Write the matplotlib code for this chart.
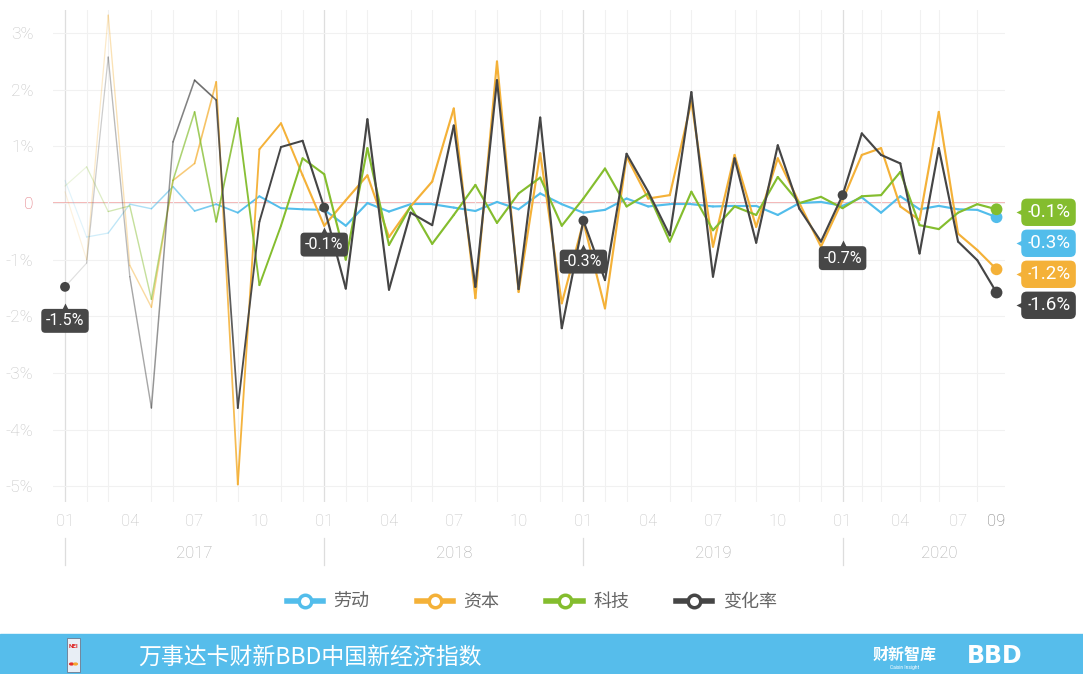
import numpy as np
import matplotlib
matplotlib.use('Agg')
import matplotlib.pyplot as plt
from matplotlib.collections import LineCollection
from matplotlib.lines import Line2D
from matplotlib.patches import Rectangle, Circle
import matplotlib.transforms as mtransforms
from matplotlib.colors import to_rgba

plt.rcParams['font.family'] = ['Roboto', 'Noto Sans CJK SC', 'DejaVu Sans']

# ---------------- data ----------------
months = [f"{y}-{m:02d}" for y in range(2017, 2021) for m in range(1, 13)][:45]

labor = [0.40, -0.60, -0.53, -0.02, -0.10, 0.29, -0.14, -0.02, -0.17, 0.12, -0.09, -0.11,
         -0.12, -0.40, 0.00, -0.15, -0.02, -0.02, -0.08, -0.14, 0.02, -0.11, 0.17, -0.02,
         -0.17, -0.12, 0.08, -0.06, -0.02, -0.02, -0.06, -0.05, -0.05, -0.21, 0.00, 0.02,
         -0.05, 0.10, -0.17, 0.12, -0.11, -0.05, -0.11, -0.12, -0.25]
capital = [0.20, -1.00, 3.32, -1.10, -1.84, 0.40, 0.70, 2.14, -4.97, 0.95, 1.41, 0.49,
           -0.40, 0.05, 0.49, -0.60, -0.06, 0.38, 1.67, -1.68, 2.50, -1.57, 0.88, -1.77,
           -0.33, -1.86, 0.82, 0.08, 0.14, 1.79, -0.77, 0.85, -0.42, 0.79, 0.00, -0.77,
           0.05, 0.85, 0.97, -0.06, -0.30, 1.61, -0.54, -0.83, -1.17]
tech = [0.30, 0.64, -0.15, -0.05, -1.70, 0.40, 1.61, -0.33, 1.50, -1.45, -0.40, 0.79,
        0.51, -1.00, 0.97, -0.74, -0.06, -0.72, -0.21, 0.32, -0.35, 0.17, 0.45, -0.40,
        0.08, 0.61, -0.06, 0.17, -0.68, 0.20, -0.48, -0.06, -0.21, 0.46, 0.00, 0.11,
        -0.09, 0.12, 0.14, 0.55, -0.39, -0.46, -0.17, -0.02, -0.11]
change = [-1.48, -1.06, 2.58, -1.30, -3.62, 1.08, 2.17, 1.82, -3.62, -0.33, 0.99, 1.10,
          -0.08, -1.51, 1.48, -1.53, -0.17, -0.39, 1.37, -1.48, 2.17, -1.52, 1.51, -2.21,
          -0.31, -1.36, 0.87, 0.20, -0.57, 1.96, -1.30, 0.79, -0.70, 1.02, -0.10, -0.68,
          0.14, 1.23, 0.85, 0.70, -0.89, 0.97, -0.68, -1.01, -1.58]

series_names = ['劳动', '资本', '科技', '变化率']
series_values = [labor, capital, tech, change]
series_colors = ['#52BDEB', '#F4B138', '#84BD2E', '#454545']

year_labels = ['2017', '2018', '2019', '2020']
year_start_idx = [0, 12, 24, 36]
year_center_idx = [6, 18, 30, 41]
month_tick_idx = [0, 3, 6, 9, 12, 15, 18, 21, 24, 27, 30, 33, 36, 39, 42, 44]
month_tick_labels = ['01', '04', '07', '10', '01', '04', '07', '10', '01', '04', '07', '10',
                     '01', '04', '07', '09']
year_point_labels = ['-1.5%', '-0.1%', '-0.3%', '-0.7%']
end_labels = ['-0.3%', '-1.2%', '-0.1%', '-1.6%']
y_ticks = [-5, -4, -3, -2, -1, 0, 1, 2, 3]
y_tick_labels = ['-5%', '-4%', '-3%', '-2%', '-1%', '0', '1%', '2%', '3%']

# ---------------- figure ----------------
W, H = 1083, 674
fig = plt.figure(figsize=(W / 100, H / 100), dpi=100)
fig.patch.set_facecolor('white')
ax = fig.add_axes([53 / W, 1 - 502 / H, (1005 - 53) / W, (502 - 10) / H])

B, K = 36.0, 0.891


def fwd(x):
    x = np.asarray(x, dtype=float)
    return np.where(x <= B, x, B + (x - B) * K)


def inv(x):
    x = np.asarray(x, dtype=float)
    return np.where(x <= B, x, B + (x - B) / K)


ax.set_xscale('function', functions=(fwd, inv))
ax.set_xlim(-0.556, 44.44)
ax.set_ylim(-5.28, 3.41)

for s in ax.spines.values():
    s.set_visible(False)

# grid
ax.set_xticks(range(len(months)), minor=True)
ax.grid(which='minor', axis='x', color='#f1f1f1', lw=0.8, zorder=0)
ax.set_yticks(y_ticks)
ax.grid(which='major', axis='y', color='#f1f1f1', lw=0.8, zorder=0)
for i in year_start_idx:
    ax.axvline(i, color='#dedede', lw=0.9, zorder=0.5)
ax.axhline(0, color='#f2a0a0', lw=1.1, zorder=1)

ax.set_xticks(month_tick_idx)
ax.set_xticklabels(month_tick_labels)
ax.set_yticklabels(y_tick_labels)
ax.tick_params(axis='both', which='both', length=0)
ax.tick_params(axis='x', pad=9, labelsize=12, labelcolor='#c4c4c4')
ax.tick_params(axis='y', pad=14, labelsize=12.5, labelcolor='#c4c4c4')
for lab in ax.get_xticklabels() + ax.get_yticklabels():
    lab.set_fontweight('light')
ax.get_xticklabels()[-1].set_color('#777777')
ax.get_yticklabels()[y_ticks.index(0)].set_color('#e07078')

# lines with fade-in over 2017
zorders = [3, 4, 5, 6]
for vals, col, z in zip(series_values, series_colors, zorders):
    x = np.arange(len(vals))
    pts = np.column_stack([x, vals])
    segs = np.stack([pts[:-1], pts[1:]], axis=1)
    mid = x[:-1] + 0.5
    alpha = np.clip(0.12 + 0.1 * mid, 0, 1)
    lw = 0.8 + 0.75 * np.clip(mid / 12.0, 0, 1)
    base = np.array(to_rgba(col))
    cols = np.tile(base, (len(segs), 1))
    cols[:, 3] = alpha
    lc = LineCollection(segs, colors=cols, linewidths=lw, zorder=z, capstyle='round',
                        joinstyle='round')
    ax.add_collection(lc)

# year start dots and labels on change series
dark = series_colors[3]
box_offsets_px = [34, 37, 41, 63]
px2pt = 72 / 100
for i, lab, off in zip(year_start_idx, year_point_labels, box_offsets_px):
    ax.scatter([i], [change[i]], s=50, color=dark, zorder=8, edgecolors='none')
    ax.annotate(lab, xy=(i, change[i]), xytext=(0, -off * px2pt), textcoords='offset points',
                ha='center', va='center', color='white', fontsize=11.5, zorder=9,
                bbox=dict(boxstyle='round,pad=0.28,rounding_size=0.25', fc='#474747', ec='none'),
                annotation_clip=False)
    tr = mtransforms.offset_copy(ax.transData, fig=fig, x=0, y=-(off - 14) * px2pt, units='points')
    ax.plot([i], [change[i]], marker='^', ms=6, color='#474747', transform=tr, zorder=9,
            clip_on=False, mec='none')

# end dots and labels
last = len(months) - 1
for vals, col in zip(series_values, series_colors):
    ax.scatter([last], [vals[last]], s=72, color=col, zorder=10, edgecolors='none', clip_on=False)

fig.canvas.draw()
disp_y = [ax.transData.transform((fwd(last), v[last]))[1] for v in series_values]
order = np.argsort([-v[last] for v in series_values])
new_y = {}
prev = None
for k in order:
    y = disp_y[k] - 3
    if prev is not None:
        y = min(y, prev - 31)
    new_y[k] = y
    prev = y
for k, (vals, col, lab) in enumerate(zip(series_values, series_colors, end_labels)):
    dy = (new_y[k] - disp_y[k]) * px2pt
    ax.annotate(lab, xy=(last, vals[last]), xytext=(52 * px2pt, dy), textcoords='offset points',
                ha='center', va='center', color='white', fontsize=13.5, zorder=11,
                bbox=dict(boxstyle='round,pad=0.25,rounding_size=0.3', fc=col, ec='none'),
                annotation_clip=False)
    tr = mtransforms.offset_copy(ax.transData, fig=fig, x=25 * px2pt, y=dy, units='points')
    ax.plot([last], [vals[last]], marker='<', ms=9, color=col, transform=tr, zorder=11,
            clip_on=False, mec='none')

# year labels & separators
blend = mtransforms.blended_transform_factory(ax.transData, fig.transFigure)
for i in year_start_idx:
    ax.plot([i, i], [1 - 538 / H, 1 - 565 / H], transform=blend, color='#dddddd', lw=0.9,
            clip_on=False)
for c, lab in zip(year_center_idx, year_labels):
    ax.text(c, 1 - 553 / H, lab, transform=blend, ha='center', va='center', fontsize=12,
            color='#ababab', fontweight='light')

# legend
handles = [Line2D([0], [0], color=c, lw=4, marker='o', ms=9, mfc='white', mec=c, mew=2.5)
           for c in series_colors]
leg = fig.legend(handles, series_names, loc='center', bbox_to_anchor=(532 / W, 1 - 602 / H),
                 ncol=4, frameon=False, handlelength=2.0, columnspacing=2.6,
                 handletextpad=0.6, prop=dict(family=['Noto Sans CJK SC'], size=13,
                                               weight='light'))
for t in leg.get_texts():
    t.set_color('#666666')

# footer banner
fig.add_artist(Rectangle((0, 0), 1, 40 / H, transform=fig.transFigure, color='#56BDEB', zorder=0))
fig.text(138 / W, 1 - 657 / H, '万事达卡财新BBD中国新经济指数', color='white', fontsize=16.5,
         ha='left', va='center', family=['Noto Sans CJK SC'])
fig.text(905 / W, 1 - 655 / H, '财新智库', color='white', fontsize=11.5, fontweight='bold',
         ha='center', va='center', family=['Noto Sans CJK SC'])
fig.text(905 / W, 1 - 667 / H, 'Caixin Insight', color='white', fontsize=3.5,
         ha='center', va='center')
fig.text(995 / W, 1 - 656 / H, 'BBD', color='white', fontsize=17, fontweight='heavy',
         ha='center', va='center', family=['DejaVu Sans'])
# small NEI badge
fig.add_artist(Rectangle((67 / W, 1 - 672 / H), 13 / W, 34 / H, transform=fig.transFigure,
                         fc='#e8eef5', ec='#6a7a90', lw=0.6, zorder=2))
fig.text(73.5 / W, 1 - 646 / H, 'NEI', color='#d22', fontsize=4.5, fontweight='bold',
         ha='center', va='center', zorder=3)
fig.add_artist(Circle((71.5 / W, 1 - 664 / H), 2.6 / W, transform=fig.transFigure,
                      fc='#e3312d', ec='none', zorder=3))
fig.add_artist(Circle((75.5 / W, 1 - 664 / H), 2.6 / W, transform=fig.transFigure,
                      fc='#f79e1b', ec='none', zorder=3, alpha=0.9))

fig.savefig('out.png', dpi=100, facecolor='white')
